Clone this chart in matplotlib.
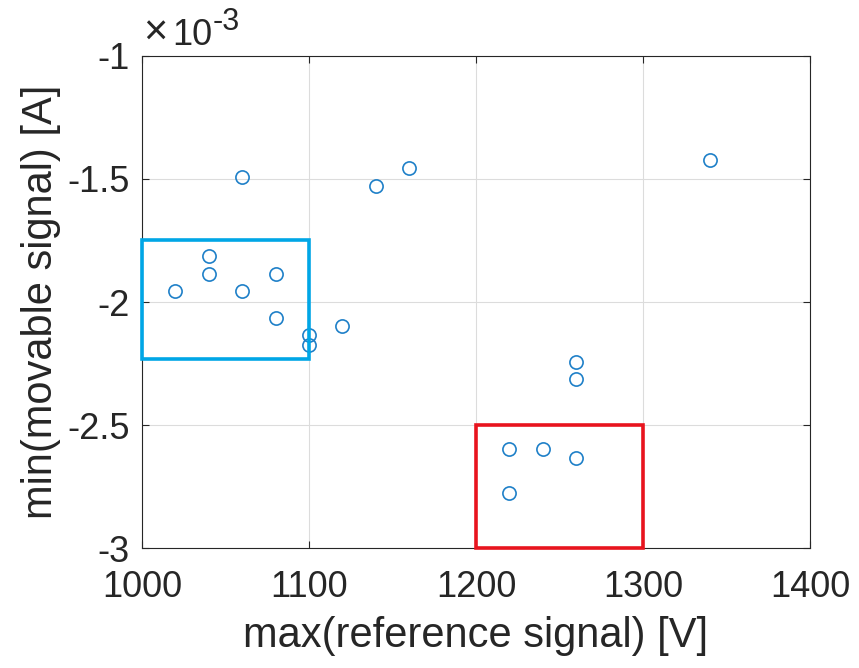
import matplotlib
matplotlib.use("Agg")
import matplotlib.pyplot as plt
from matplotlib.patches import Rectangle

plt.rcParams['font.family'] = ['Liberation Sans', 'DejaVu Sans']
plt.rcParams['axes.unicode_minus'] = False

# =========================
# DATA (y in units of 1e-3 A)
# =========================
ref_max = [1020, 1040, 1040, 1060, 1060, 1080, 1080, 1100, 1100, 1120,
           1140, 1160, 1220, 1220, 1240, 1260, 1260, 1260, 1340]
mov_min = [-1.955, -1.813, -1.886, -1.492, -1.955, -1.886, -2.065, -2.134, -2.175, -2.098,
           -1.528, -1.455, -2.598, -2.776, -2.598, -2.244, -2.313, -2.634, -1.423]

# highlighted regions: (x0, x1, y0, y1)
cyan_box = (1000, 1100, -2.23, -1.75)
red_box = (1200, 1300, -3.0, -2.5)

xticks = [1000, 1100, 1200, 1300, 1400]
yticks = [-3, -2.5, -2, -1.5, -1]
ytick_labels = ['-3', '-2.5', '-2', '-1.5', '-1']

# =========================
# FIGURE
# =========================
fig = plt.figure(figsize=(8.59, 6.68), dpi=100)
ax = fig.add_axes([0.1653, 0.1796, 0.7777, 0.7366])

ax.plot(ref_max, mov_min, linestyle='none', marker='o', markersize=9.5,
        markerfacecolor='none', markeredgecolor='#1F80C8', markeredgewidth=1.2)

for box, col in [(cyan_box, '#00A6E6'), (red_box, '#E8141E')]:
    x0, x1, y0, y1 = box
    ax.add_patch(Rectangle((x0, y0), x1 - x0, y1 - y0, fill=False,
                           edgecolor=col, linewidth=2.6, clip_on=False, zorder=3))

ax.set_xlim(1000, 1400)
ax.set_ylim(-3, -1)
ax.set_xticks(xticks)
ax.set_yticks(yticks)
ax.set_yticklabels(ytick_labels)
ax.grid(True, color='#DCDCDC', linewidth=0.8)
ax.set_axisbelow(True)
ax.tick_params(direction='in', top=True, right=True, labelsize=26,
               length=5, width=0.8, colors='#262626')
ax.tick_params(axis='x', pad=16)
ax.tick_params(axis='y', pad=9)
for s in ax.spines.values():
    s.set_color('#262626')
    s.set_linewidth(0.8)

ax.set_xlabel('max(reference signal) [V]', fontsize=30, color='#262626', labelpad=8)
ax.set_ylabel('min(movable signal) [A]', fontsize=30, color='#262626', labelpad=4)

# exponent label, MATLAB style (x10 with raised -3)
for txt, dx, dy, fs in [('\u00d7', 1, 8, 30), ('10', 22, 8, 26), ('-3', 51, 19, 22)]:
    ax.annotate(txt, xy=(0, 1), xycoords='axes fraction', xytext=(dx, dy),
                textcoords='offset points', fontsize=fs, color='#262626',
                ha='left', va='baseline')

fig.savefig("out.png", dpi=100)
